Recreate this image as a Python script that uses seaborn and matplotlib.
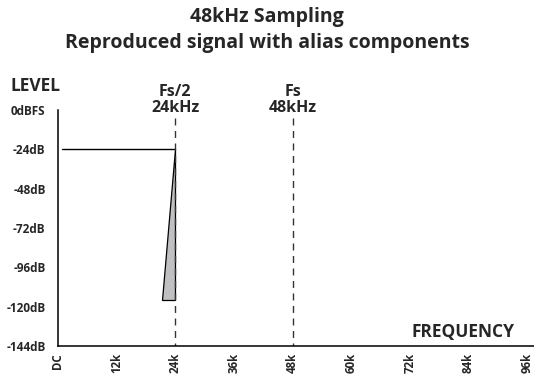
import matplotlib
matplotlib.use("Agg")
import matplotlib.pyplot as plt
import seaborn as sns
import pandas as pd

freq_ticks = [0, 12, 24, 36, 48, 60, 72, 84, 96]
freq_labels = ["DC", "12k", "24k", "36k", "48k", "60k", "72k", "84k", "96k"]
level_ticks = [0, -24, -48, -72, -96, -120, -144]
level_labels = ["0dBFS", "-24dB", "-48dB", "-72dB", "-96dB", "-120dB", "-144dB"]

# reproduced signal (kHz, dB)
signal_freq = [0.75, 24]
signal_level = [-24, -24]
# alias component wedge
alias_freq = [24, 24, 21.2]
alias_level = [-24, -116, -116]

# sampling markers
marker_freq = [24, 48]
marker_names = ["Fs/2\n24kHz", "Fs\n48kHz"]

sns.set_style("white")
plt.rcParams["font.family"] = ["Open Sans", "DejaVu Sans"]

fig = plt.figure(figsize=(5.34, 3.76), dpi=100)
ax = fig.add_axes([58 / 534, 30 / 376, 476 / 534, 236 / 376])

df = pd.DataFrame({"freq": signal_freq, "level": signal_level})
sns.lineplot(data=df, x="freq", y="level", color="black", linewidth=1.0, ax=ax)
ax.fill(alias_freq, alias_level, facecolor="#c0c0c2", edgecolor="black", linewidth=0.9)

for f, name in zip(marker_freq, marker_names):
    ax.plot([f, f], [-5, -144], color="#333333", linestyle=(0, (5, 4)), linewidth=1.0)
    ax.text(f, -3.5, name, ha="center", va="bottom", fontsize=11.5, fontweight="bold",
            linespacing=1.0, clip_on=False)

ax.set_xlim(0, 96 * 476 / 469)
ax.set_ylim(-144, 0)
ax.set_xticks(freq_ticks)
ax.set_xticklabels(freq_labels, rotation=90, fontsize=8.3, fontweight="bold")
ax.set_yticks(level_ticks)
ax.set_yticklabels(level_labels, fontsize=8.5, fontweight="bold")
ax.tick_params(axis="both", length=0)
ax.tick_params(axis="y", pad=9)
ax.tick_params(axis="x", pad=5)
ax.set_xlabel("")
ax.set_ylabel("")
sns.despine(ax=ax)
for s in ["left", "bottom"]:
    ax.spines[s].set_color("black")
    ax.spines[s].set_linewidth(1.1)

ax.text(0.958, 0.02, "FREQUENCY", transform=ax.transAxes, ha="right", va="bottom",
        fontsize=12.5, fontweight="bold")
fig.text(10 / 534, 1 - 86 / 376, "LEVEL", ha="left", va="center", fontsize=12.5, fontweight="bold")
fig.text(0.5, 1 - 17 / 376, "48kHz Sampling", ha="center", va="center", fontsize=14, fontweight="bold")
fig.text(0.5, 1 - 43 / 376, "Reproduced signal with alias components", ha="center", va="center",
         fontsize=14, fontweight="bold")

fig.savefig("out.png", dpi=100)
